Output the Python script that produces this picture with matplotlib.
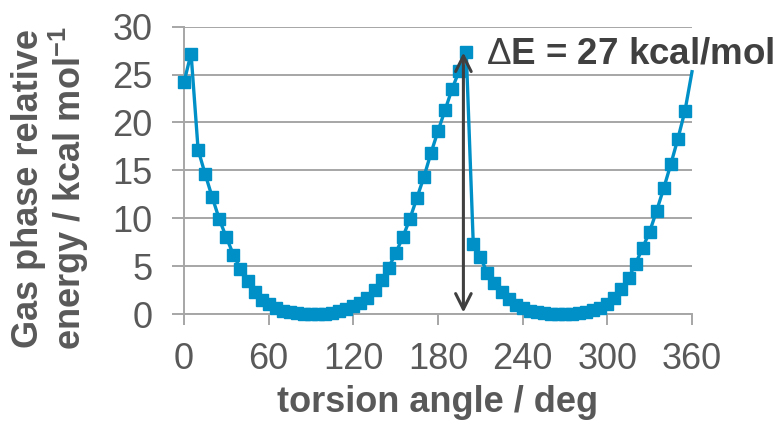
import matplotlib
matplotlib.use("Agg")
import matplotlib.pyplot as plt

# torsion scan, 5 degree steps (last point drawn without marker)
angles = list(range(0, 365, 5))
energy = [24.2, 27.2, 17.15, 14.6, 12.2, 9.9, 8.0, 6.2, 4.7, 3.45,
          2.3, 1.5, 1.0, 0.62, 0.35, 0.17, 0.07, 0.02, 0.0, 0.01,
          0.05, 0.14, 0.28, 0.5, 0.82, 1.2, 1.65, 2.5, 3.5, 4.85,
          6.35, 8.0, 9.9, 12.1, 14.3, 16.8, 19.1, 21.3, 23.5, 25.4,
          27.4, 7.3, 5.9, 4.3, 3.2, 2.3, 1.6, 0.95, 0.6, 0.35,
          0.18, 0.07, 0.02, 0.0, 0.0, 0.02, 0.08, 0.2, 0.38, 0.62,
          1.0, 1.65, 2.6, 3.75, 5.25, 6.9, 8.6, 10.8, 13.15, 15.65,
          18.3, 21.2, 25.3]
xticks = [0, 60, 120, 180, 240, 300, 360]
yticks = [0, 5, 10, 15, 20, 25, 30]
barrier = 27.3
barrier_x = 198
label_txt = "$\\Delta$E = 27 kcal/mol"

plt.rcParams["font.family"] = ["Liberation Sans", "DejaVu Sans"]
plt.rcParams["mathtext.fontset"] = "custom"
plt.rcParams["mathtext.rm"] = "Liberation Sans"
plt.rcParams["mathtext.bf"] = "Liberation Sans:bold"

GRAY = "#A6A6A6"
TXT = "#595959"
BLUE = "#0090C8"

fig = plt.figure(figsize=(7.81, 4.29), dpi=100)
ax = fig.add_axes([184/781, 1-314/429, (692-184)/781, (314-26.7)/429])

ax.plot(angles, energy, color=BLUE, lw=2.4, marker="s", ms=8.5,
        markevery=slice(0, len(angles)-1), zorder=3, clip_on=False)

ax.set_xlim(0, 360)
ax.set_ylim(0, 30)
ax.set_xticks(xticks)
ax.set_yticks(yticks)
ax.yaxis.grid(True, color=GRAY, lw=1.4, zorder=0)
ax.set_axisbelow(True)
for sp in ["top", "right"]:
    ax.spines[sp].set_visible(False)
for sp in ["left", "bottom"]:
    ax.spines[sp].set_color(GRAY)
    ax.spines[sp].set_linewidth(1.4)
ax.tick_params(axis="y", direction="out", length=8.5, width=1.4, color=GRAY,
               labelsize=26, labelcolor=TXT, pad=14)
ax.tick_params(axis="x", direction="out", length=8, width=1.4, color=GRAY,
               labelsize=26, labelcolor=TXT, pad=12)

ax.annotate("", xy=(barrier_x, barrier), xytext=(barrier_x, 0.15),
            arrowprops=dict(arrowstyle="<->", color="#404040", lw=2.2,
                            mutation_scale=28, shrinkA=0, shrinkB=0),
            zorder=5, annotation_clip=False)
ax.text(214, 27.2, label_txt, fontsize=26.5, fontweight="bold", color="#404040",
        ha="left", va="center", clip_on=False, zorder=6)

ax.set_xlabel("torsion angle / deg", fontsize=26, fontweight="bold", color=TXT,
              labelpad=6)
fig.text(51/781, 1-188/429,
         "Gas phase relative\nenergy / kcal mol$^{\\mathbf{-1}}$",
         rotation=90, ha="center", va="center", fontsize=26, fontweight="bold",
         color=TXT, linespacing=1.05, multialignment="center")

fig.savefig("out.png", dpi=100)
